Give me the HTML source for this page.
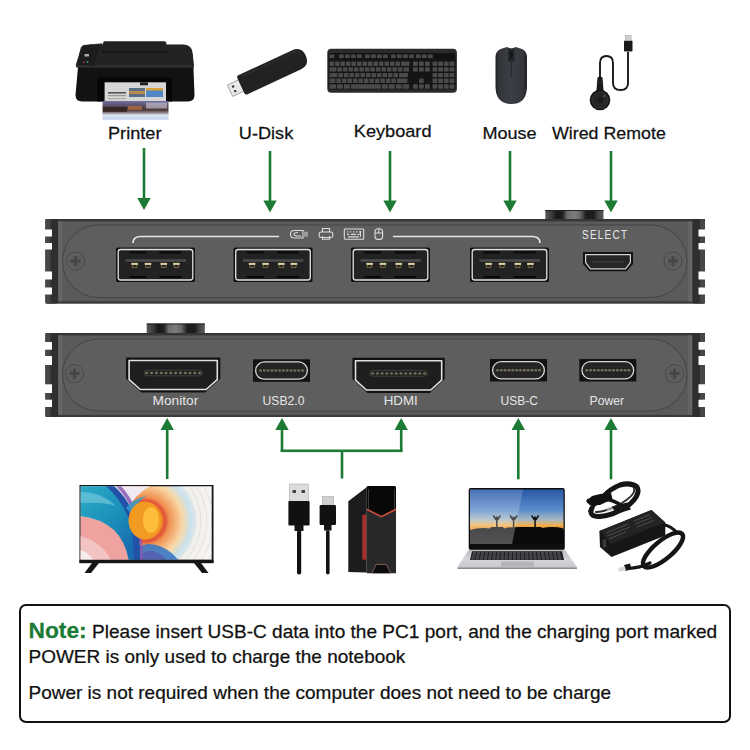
<!DOCTYPE html>
<html><head><meta charset="utf-8">
<style>
html,body{margin:0;padding:0;background:#fff;}
body{width:750px;height:750px;position:relative;overflow:hidden;font-family:"Liberation Sans",sans-serif;}
svg{position:absolute;left:0;top:0;}
.lbl{position:absolute;font-size:17px;color:#111;white-space:nowrap;line-height:1;transform-origin:0 0;}
.plbl{position:absolute;font-size:13px;color:#e8e8e8;white-space:nowrap;line-height:1;transform-origin:0 0;}
.note{position:absolute;left:18.5px;top:604px;width:708.5px;height:115px;border:2px solid #111;border-radius:7px;}
.nt{position:absolute;left:29px;font-size:18px;color:#111;white-space:nowrap;line-height:1;transform-origin:0 0;}
</style></head><body>
<svg width="750" height="750" viewBox="0 0 750 750">
<defs><linearGradient id="knobg" x1="0" x2="1" y1="0" y2="0"><stop offset="0" stop-color="#5a5a5a"/><stop offset="0.1" stop-color="#3e3e3e"/><stop offset="0.2" stop-color="#161616"/><stop offset="0.3" stop-color="#222"/><stop offset="0.38" stop-color="#6e6e6e"/><stop offset="0.5" stop-color="#7c7c7c"/><stop offset="0.6" stop-color="#666"/><stop offset="0.7" stop-color="#1e1e1e"/><stop offset="0.82" stop-color="#1a1a1a"/><stop offset="0.92" stop-color="#4a4a4a"/><stop offset="1" stop-color="#575757"/></linearGradient></defs>
<rect x="142.7" y="148" width="2.6" height="52" fill="#1d7a34"/>
<path d="M137.3 198 L150.7 198 L144 210 Z" fill="#1d7a34"/>
<rect x="268.7" y="151" width="2.6" height="51.5" fill="#1d7a34"/>
<path d="M263.3 200.5 L276.7 200.5 L270 212.5 Z" fill="#1d7a34"/>
<rect x="388.7" y="151" width="2.6" height="51.5" fill="#1d7a34"/>
<path d="M383.3 200.5 L396.7 200.5 L390 212.5 Z" fill="#1d7a34"/>
<rect x="508.7" y="151" width="2.6" height="51.5" fill="#1d7a34"/>
<path d="M503.3 200.5 L516.7 200.5 L510 212.5 Z" fill="#1d7a34"/>
<rect x="609.7" y="151" width="2.6" height="51.5" fill="#1d7a34"/>
<path d="M604.3 200.5 L617.7 200.5 L611 212.5 Z" fill="#1d7a34"/>
<rect x="545.3" y="210" width="58.200000000000045" height="10" fill="url(#knobg)"/><rect x="545.3" y="210" width="58.200000000000045" height="1" fill="#222"/>
<rect x="45.5" y="219" width="659.5" height="84.5" rx="2" fill="#5a5a5a"/>
<rect x="45.5" y="219" width="659.5" height="2.4" fill="#363636"/>
<rect x="45.5" y="301.3" width="659.5" height="2.2" fill="#3a3a3a"/>
<rect x="45.5" y="219" width="12.8" height="84.5" rx="2" fill="#2f2f2f"/>
<rect x="45.5" y="219" width="5" height="84.5" rx="2" fill="#474747"/>
<rect x="692.2" y="219" width="12.8" height="84.5" rx="2" fill="#2f2f2f"/>
<rect x="700" y="219" width="5" height="84.5" rx="2" fill="#474747"/>
<rect x="58.3" y="221.4" width="4" height="79.9" fill="#666"/>
<rect x="688.2" y="221.4" width="4" height="79.9" fill="#666"/>
<rect x="62.5" y="225" width="624.5" height="72.5" rx="36.25" ry="36.25" fill="#5e5e5e" stroke="#444" stroke-width="1"/>
<rect x="44.5" y="229.5" width="7.5" height="7.0" fill="#ffffff"/>
<rect x="698.5" y="229.5" width="7.5" height="7.0" fill="#ffffff"/>
<rect x="44.5" y="243" width="7.5" height="6.5" fill="#ffffff"/>
<rect x="698.5" y="243" width="7.5" height="6.5" fill="#ffffff"/>
<rect x="44.5" y="271.5" width="7.5" height="8.0" fill="#ffffff"/>
<rect x="698.5" y="271.5" width="7.5" height="8.0" fill="#ffffff"/>
<rect x="44.5" y="287.5" width="7.5" height="7.0" fill="#ffffff"/>
<rect x="698.5" y="287.5" width="7.5" height="7.0" fill="#ffffff"/>
<circle cx="75.5" cy="261" r="9" fill="#5c5c5c" stroke="#474747" stroke-width="1"/><circle cx="75.5" cy="261" r="7.5" fill="none" stroke="#6a6a6a" stroke-width="0.6"/><path d="M70.5 259.6 h3.6 v-3.6 h2.8 v3.6 h3.6 v2.8 h-3.6 v3.6 h-2.8 v-3.6 h-3.6 Z" fill="#454545"/>
<circle cx="673" cy="261" r="9" fill="#5c5c5c" stroke="#474747" stroke-width="1"/><circle cx="673" cy="261" r="7.5" fill="none" stroke="#6a6a6a" stroke-width="0.6"/><path d="M668 259.6 h3.6 v-3.6 h2.8 v3.6 h3.6 v2.8 h-3.6 v3.6 h-2.8 v-3.6 h-3.6 Z" fill="#454545"/>
<rect x="116" y="247.5" width="79" height="34.5" rx="1.5" fill="#121212"/>
<rect x="118.2" y="249.5" width="74.6" height="30.5" rx="2.5" fill="#222" stroke="#e2e2e2" stroke-width="1.3"/>
<rect x="129.4" y="251.5" width="16.6" height="2" fill="#080808"/>
<rect x="129.4" y="276.0" width="16.6" height="2" fill="#080808"/>
<rect x="159.4" y="251.5" width="22.1" height="2" fill="#080808"/>
<rect x="159.4" y="276.0" width="22.1" height="2" fill="#080808"/>
<rect x="125.5" y="259.2" width="60.4" height="2.6" fill="#4a4a4a"/>
<rect x="131.3" y="262.9" width="6.6" height="2" fill="#e2d4a2"/>
<path d="M132.4 264.9 v2.6 h4.4 v-2.6" fill="none" stroke="#8a7a50" stroke-width="0.8"/>
<rect x="144.7" y="262.9" width="6.6" height="2" fill="#e2d4a2"/>
<path d="M145.8 264.9 v2.6 h4.4 v-2.6" fill="none" stroke="#8a7a50" stroke-width="0.8"/>
<rect x="160.5" y="262.9" width="6.6" height="2" fill="#e2d4a2"/>
<path d="M161.6 264.9 v2.6 h4.4 v-2.6" fill="none" stroke="#8a7a50" stroke-width="0.8"/>
<rect x="173.1" y="262.9" width="6.6" height="2" fill="#e2d4a2"/>
<path d="M174.2 264.9 v2.6 h4.4 v-2.6" fill="none" stroke="#8a7a50" stroke-width="0.8"/>
<rect x="233.5" y="247.5" width="79" height="34.5" rx="1.5" fill="#121212"/>
<rect x="235.7" y="249.5" width="74.6" height="30.5" rx="2.5" fill="#222" stroke="#e2e2e2" stroke-width="1.3"/>
<rect x="246.9" y="251.5" width="16.6" height="2" fill="#080808"/>
<rect x="246.9" y="276.0" width="16.6" height="2" fill="#080808"/>
<rect x="276.9" y="251.5" width="22.1" height="2" fill="#080808"/>
<rect x="276.9" y="276.0" width="22.1" height="2" fill="#080808"/>
<rect x="243.0" y="259.2" width="60.4" height="2.6" fill="#4a4a4a"/>
<rect x="248.8" y="262.9" width="6.6" height="2" fill="#e2d4a2"/>
<path d="M249.9 264.9 v2.6 h4.4 v-2.6" fill="none" stroke="#8a7a50" stroke-width="0.8"/>
<rect x="262.2" y="262.9" width="6.6" height="2" fill="#e2d4a2"/>
<path d="M263.3 264.9 v2.6 h4.4 v-2.6" fill="none" stroke="#8a7a50" stroke-width="0.8"/>
<rect x="278.0" y="262.9" width="6.6" height="2" fill="#e2d4a2"/>
<path d="M279.1 264.9 v2.6 h4.4 v-2.6" fill="none" stroke="#8a7a50" stroke-width="0.8"/>
<rect x="290.6" y="262.9" width="6.6" height="2" fill="#e2d4a2"/>
<path d="M291.7 264.9 v2.6 h4.4 v-2.6" fill="none" stroke="#8a7a50" stroke-width="0.8"/>
<rect x="351" y="247.5" width="79" height="34.5" rx="1.5" fill="#121212"/>
<rect x="353.2" y="249.5" width="74.6" height="30.5" rx="2.5" fill="#222" stroke="#e2e2e2" stroke-width="1.3"/>
<rect x="364.4" y="251.5" width="16.6" height="2" fill="#080808"/>
<rect x="364.4" y="276.0" width="16.6" height="2" fill="#080808"/>
<rect x="394.4" y="251.5" width="22.1" height="2" fill="#080808"/>
<rect x="394.4" y="276.0" width="22.1" height="2" fill="#080808"/>
<rect x="360.5" y="259.2" width="60.4" height="2.6" fill="#4a4a4a"/>
<rect x="366.3" y="262.9" width="6.6" height="2" fill="#e2d4a2"/>
<path d="M367.4 264.9 v2.6 h4.4 v-2.6" fill="none" stroke="#8a7a50" stroke-width="0.8"/>
<rect x="379.7" y="262.9" width="6.6" height="2" fill="#e2d4a2"/>
<path d="M380.8 264.9 v2.6 h4.4 v-2.6" fill="none" stroke="#8a7a50" stroke-width="0.8"/>
<rect x="395.5" y="262.9" width="6.6" height="2" fill="#e2d4a2"/>
<path d="M396.6 264.9 v2.6 h4.4 v-2.6" fill="none" stroke="#8a7a50" stroke-width="0.8"/>
<rect x="408.1" y="262.9" width="6.6" height="2" fill="#e2d4a2"/>
<path d="M409.2 264.9 v2.6 h4.4 v-2.6" fill="none" stroke="#8a7a50" stroke-width="0.8"/>
<rect x="470" y="247.5" width="79" height="34.5" rx="1.5" fill="#121212"/>
<rect x="472.2" y="249.5" width="74.6" height="30.5" rx="2.5" fill="#222" stroke="#e2e2e2" stroke-width="1.3"/>
<rect x="483.4" y="251.5" width="16.6" height="2" fill="#080808"/>
<rect x="483.4" y="276.0" width="16.6" height="2" fill="#080808"/>
<rect x="513.5" y="251.5" width="22.1" height="2" fill="#080808"/>
<rect x="513.5" y="276.0" width="22.1" height="2" fill="#080808"/>
<rect x="479.5" y="259.2" width="60.4" height="2.6" fill="#4a4a4a"/>
<rect x="485.3" y="262.9" width="6.6" height="2" fill="#e2d4a2"/>
<path d="M486.4 264.9 v2.6 h4.4 v-2.6" fill="none" stroke="#8a7a50" stroke-width="0.8"/>
<rect x="498.7" y="262.9" width="6.6" height="2" fill="#e2d4a2"/>
<path d="M499.8 264.9 v2.6 h4.4 v-2.6" fill="none" stroke="#8a7a50" stroke-width="0.8"/>
<rect x="514.5" y="262.9" width="6.6" height="2" fill="#e2d4a2"/>
<path d="M515.6 264.9 v2.6 h4.4 v-2.6" fill="none" stroke="#8a7a50" stroke-width="0.8"/>
<rect x="527.1" y="262.9" width="6.6" height="2" fill="#e2d4a2"/>
<path d="M528.2 264.9 v2.6 h4.4 v-2.6" fill="none" stroke="#8a7a50" stroke-width="0.8"/>
<path d="M133 243 Q133 236.5 141 236.5 L279 236.5 M393 236.5 L532 236.5 Q540 236.5 540 243" fill="none" stroke="#e8e8e8" stroke-width="1.6"/>
<g fill="none" stroke="#dcdcdc" stroke-width="1.1"><path d="M303 230.5 H294 Q290.5 230.5 290.5 234.2 Q290.5 238 294 238 H303 Z"/><path d="M298 232.5 Q294 232.5 294 234.2 Q294 236 298 236 H301"/><rect x="303" y="231.8" width="5" height="5" fill="#9a9a9a" stroke="none"/><path d="M322.5 232 V228.5 H329.5 V232"/><rect x="319.2" y="232" width="13.6" height="5.5" rx="1.8"/><path d="M322.5 236 V239.3 H329.5 V236"/><rect x="344.3" y="229" width="19.4" height="10.2" rx="0.8"/><path d="M347 231.8h1.2M350 231.8h1.2M353 231.8h1.2M356 231.8h1.2M359 231.8h1.2M347 234.3h2.2M351 234.3h5M357.5 234.3h2.2M348 236.8h11" stroke-width="1.2"/><path d="M360.5 231 V236.8" stroke-width="1"/><rect x="375" y="228.8" width="7.6" height="10.6" rx="3"/><path d="M375 233 H382.6 M378.8 228.8 V233"/></g>
<text transform="translate(582 239.2) scale(0.78 1)" font-family="Liberation Sans" font-size="12.8" fill="#e6e6e6" letter-spacing="1.6">SELECT</text>
<path d="M583 252 H633 V264 L626.5 271.3 H589.5 L583 264 Z" fill="#121212"/>
<path d="M585.6 254.6 H630.4 V262.6 L625.5 268.8 H590.5 L585.6 262.6 Z" fill="#262626" stroke="#d4d4d4" stroke-width="1.2" stroke-linejoin="round"/>
<rect x="592" y="261" width="32" height="1.6" fill="#3a3a3a"/>
<rect x="146.7" y="323.5" width="58.10000000000002" height="10.5" fill="url(#knobg)"/><rect x="146.7" y="323.5" width="58.10000000000002" height="1" fill="#222"/>
<rect x="45.5" y="333" width="659.5" height="84" rx="2" fill="#5a5a5a"/>
<rect x="45.5" y="333" width="659.5" height="2.4" fill="#363636"/>
<rect x="45.5" y="414.8" width="659.5" height="2.2" fill="#3a3a3a"/>
<rect x="45.5" y="333" width="12.8" height="84" rx="2" fill="#2f2f2f"/>
<rect x="45.5" y="333" width="5" height="84" rx="2" fill="#474747"/>
<rect x="692.2" y="333" width="12.8" height="84" rx="2" fill="#2f2f2f"/>
<rect x="700" y="333" width="5" height="84" rx="2" fill="#474747"/>
<rect x="58.3" y="335.4" width="4" height="79.4" fill="#666"/>
<rect x="688.2" y="335.4" width="4" height="79.4" fill="#666"/>
<rect x="62.5" y="339" width="624.5" height="72" rx="36.0" ry="36.0" fill="#5e5e5e" stroke="#444" stroke-width="1"/>
<rect x="44.5" y="342" width="7.5" height="7.699999999999989" fill="#ffffff"/>
<rect x="698.5" y="342" width="7.5" height="7.699999999999989" fill="#ffffff"/>
<rect x="44.5" y="356" width="7.5" height="9" fill="#ffffff"/>
<rect x="698.5" y="356" width="7.5" height="9" fill="#ffffff"/>
<rect x="44.5" y="384.3" width="7.5" height="8.699999999999989" fill="#ffffff"/>
<rect x="698.5" y="384.3" width="7.5" height="8.699999999999989" fill="#ffffff"/>
<rect x="44.5" y="399.7" width="7.5" height="7.300000000000011" fill="#ffffff"/>
<rect x="698.5" y="399.7" width="7.5" height="7.300000000000011" fill="#ffffff"/>
<circle cx="74.5" cy="373.7" r="9" fill="#5c5c5c" stroke="#474747" stroke-width="1"/><circle cx="74.5" cy="373.7" r="7.5" fill="none" stroke="#6a6a6a" stroke-width="0.6"/><path d="M69.5 372.3 h3.6 v-3.6 h2.8 v3.6 h3.6 v2.8 h-3.6 v3.6 h-2.8 v-3.6 h-3.6 Z" fill="#454545"/>
<circle cx="674.5" cy="373.7" r="9" fill="#5c5c5c" stroke="#474747" stroke-width="1"/><circle cx="674.5" cy="373.7" r="7.5" fill="none" stroke="#6a6a6a" stroke-width="0.6"/><path d="M669.5 372.3 h3.6 v-3.6 h2.8 v3.6 h3.6 v2.8 h-3.6 v3.6 h-2.8 v-3.6 h-3.6 Z" fill="#454545"/>
<path d="M126.8 358.2 L219.6 358.2 L219.6 378.4 L204.8 391.8 L141.6 391.8 L126.8 378.4 Z" fill="#121212" stroke="#121212" stroke-width="1.5" stroke-linejoin="round"/>
<path d="M129.1 360.5 L217.3 360.5 L217.3 379.7 L206.1 389.5 L140.3 389.5 L129.1 379.7 Z" fill="#1e1e1e" stroke="#e2e0dc" stroke-width="1.6" stroke-linejoin="round"/>
<rect x="144.0" y="370.2" width="58.5" height="5.6" rx="2.8" fill="none" stroke="#4a4a44" stroke-width="0.8"/>
<ellipse cx="146.8" cy="373.0" rx="1.6" ry="1.2" fill="#767058"/>
<ellipse cx="151.6" cy="373.0" rx="1.6" ry="1.2" fill="#767058"/>
<ellipse cx="156.4" cy="373.0" rx="1.6" ry="1.2" fill="#767058"/>
<ellipse cx="161.2" cy="373.0" rx="1.6" ry="1.2" fill="#767058"/>
<ellipse cx="166.0" cy="373.0" rx="1.6" ry="1.2" fill="#767058"/>
<ellipse cx="170.8" cy="373.0" rx="1.6" ry="1.2" fill="#767058"/>
<ellipse cx="175.6" cy="373.0" rx="1.6" ry="1.2" fill="#767058"/>
<ellipse cx="180.4" cy="373.0" rx="1.6" ry="1.2" fill="#767058"/>
<ellipse cx="185.2" cy="373.0" rx="1.6" ry="1.2" fill="#767058"/>
<ellipse cx="190.0" cy="373.0" rx="1.6" ry="1.2" fill="#767058"/>
<ellipse cx="194.8" cy="373.0" rx="1.6" ry="1.2" fill="#767058"/>
<ellipse cx="199.6" cy="373.0" rx="1.6" ry="1.2" fill="#767058"/>
<rect x="253" y="359.3" width="57" height="22.5" fill="#121212"/>
<rect x="255.6" y="361.90000000000003" width="51.8" height="17.3" rx="8.65" fill="#242424" stroke="#d8d8d8" stroke-width="1.3"/>
<ellipse cx="260.5" cy="370.6" rx="1.5" ry="1.25" fill="#767058"/>
<ellipse cx="264.3" cy="370.6" rx="1.5" ry="1.25" fill="#767058"/>
<ellipse cx="268.1" cy="370.6" rx="1.5" ry="1.25" fill="#767058"/>
<ellipse cx="272.0" cy="370.6" rx="1.5" ry="1.25" fill="#767058"/>
<ellipse cx="275.8" cy="370.6" rx="1.5" ry="1.25" fill="#767058"/>
<ellipse cx="279.6" cy="370.6" rx="1.5" ry="1.25" fill="#767058"/>
<ellipse cx="283.4" cy="370.6" rx="1.5" ry="1.25" fill="#767058"/>
<ellipse cx="287.2" cy="370.6" rx="1.5" ry="1.25" fill="#767058"/>
<ellipse cx="291.0" cy="370.6" rx="1.5" ry="1.25" fill="#767058"/>
<ellipse cx="294.9" cy="370.6" rx="1.5" ry="1.25" fill="#767058"/>
<ellipse cx="298.7" cy="370.6" rx="1.5" ry="1.25" fill="#767058"/>
<ellipse cx="302.5" cy="370.6" rx="1.5" ry="1.25" fill="#767058"/>
<path d="M353.2 358.5 L444.0 358.5 L444.0 378.8 L429.5 392.3 L367.7 392.3 L353.2 378.8 Z" fill="#121212" stroke="#121212" stroke-width="1.5" stroke-linejoin="round"/>
<path d="M355.5 360.8 L441.7 360.8 L441.7 380.1 L430.8 390.0 L366.4 390.0 L355.5 380.1 Z" fill="#1e1e1e" stroke="#e2e0dc" stroke-width="1.6" stroke-linejoin="round"/>
<rect x="370.0" y="370.6" width="57.2" height="5.6" rx="2.8" fill="none" stroke="#4a4a44" stroke-width="0.8"/>
<ellipse cx="372.7" cy="373.4" rx="1.6" ry="1.2" fill="#767058"/>
<ellipse cx="377.4" cy="373.4" rx="1.6" ry="1.2" fill="#767058"/>
<ellipse cx="382.1" cy="373.4" rx="1.6" ry="1.2" fill="#767058"/>
<ellipse cx="386.8" cy="373.4" rx="1.6" ry="1.2" fill="#767058"/>
<ellipse cx="391.5" cy="373.4" rx="1.6" ry="1.2" fill="#767058"/>
<ellipse cx="396.2" cy="373.4" rx="1.6" ry="1.2" fill="#767058"/>
<ellipse cx="401.0" cy="373.4" rx="1.6" ry="1.2" fill="#767058"/>
<ellipse cx="405.7" cy="373.4" rx="1.6" ry="1.2" fill="#767058"/>
<ellipse cx="410.4" cy="373.4" rx="1.6" ry="1.2" fill="#767058"/>
<ellipse cx="415.1" cy="373.4" rx="1.6" ry="1.2" fill="#767058"/>
<ellipse cx="419.8" cy="373.4" rx="1.6" ry="1.2" fill="#767058"/>
<ellipse cx="424.5" cy="373.4" rx="1.6" ry="1.2" fill="#767058"/>
<rect x="490" y="359" width="57" height="22.5" fill="#121212"/>
<rect x="492.6" y="361.6" width="51.8" height="17.3" rx="8.65" fill="#242424" stroke="#d8d8d8" stroke-width="1.3"/>
<ellipse cx="497.5" cy="370.2" rx="1.5" ry="1.25" fill="#767058"/>
<ellipse cx="501.3" cy="370.2" rx="1.5" ry="1.25" fill="#767058"/>
<ellipse cx="505.1" cy="370.2" rx="1.5" ry="1.25" fill="#767058"/>
<ellipse cx="509.0" cy="370.2" rx="1.5" ry="1.25" fill="#767058"/>
<ellipse cx="512.8" cy="370.2" rx="1.5" ry="1.25" fill="#767058"/>
<ellipse cx="516.6" cy="370.2" rx="1.5" ry="1.25" fill="#767058"/>
<ellipse cx="520.4" cy="370.2" rx="1.5" ry="1.25" fill="#767058"/>
<ellipse cx="524.2" cy="370.2" rx="1.5" ry="1.25" fill="#767058"/>
<ellipse cx="528.0" cy="370.2" rx="1.5" ry="1.25" fill="#767058"/>
<ellipse cx="531.9" cy="370.2" rx="1.5" ry="1.25" fill="#767058"/>
<ellipse cx="535.7" cy="370.2" rx="1.5" ry="1.25" fill="#767058"/>
<ellipse cx="539.5" cy="370.2" rx="1.5" ry="1.25" fill="#767058"/>
<rect x="579.3" y="359" width="57" height="22.5" fill="#121212"/>
<rect x="581.9" y="361.6" width="51.8" height="17.3" rx="8.65" fill="#242424" stroke="#d8d8d8" stroke-width="1.3"/>
<ellipse cx="586.8" cy="370.2" rx="1.5" ry="1.25" fill="#767058"/>
<ellipse cx="590.6" cy="370.2" rx="1.5" ry="1.25" fill="#767058"/>
<ellipse cx="594.4" cy="370.2" rx="1.5" ry="1.25" fill="#767058"/>
<ellipse cx="598.3" cy="370.2" rx="1.5" ry="1.25" fill="#767058"/>
<ellipse cx="602.1" cy="370.2" rx="1.5" ry="1.25" fill="#767058"/>
<ellipse cx="605.9" cy="370.2" rx="1.5" ry="1.25" fill="#767058"/>
<ellipse cx="609.7" cy="370.2" rx="1.5" ry="1.25" fill="#767058"/>
<ellipse cx="613.5" cy="370.2" rx="1.5" ry="1.25" fill="#767058"/>
<ellipse cx="617.3" cy="370.2" rx="1.5" ry="1.25" fill="#767058"/>
<ellipse cx="621.2" cy="370.2" rx="1.5" ry="1.25" fill="#767058"/>
<ellipse cx="625.0" cy="370.2" rx="1.5" ry="1.25" fill="#767058"/>
<ellipse cx="628.8" cy="370.2" rx="1.5" ry="1.25" fill="#767058"/>
<rect x="165.89999999999998" y="428" width="2.6" height="51" fill="#1d7a34"/><path d="M160.5 430 L173.89999999999998 430 L167.2 418 Z" fill="#1d7a34"/>
<rect x="280.7" y="428" width="2.6" height="24" fill="#1d7a34"/><path d="M275.3 430 L288.7 430 L282 418 Z" fill="#1d7a34"/>
<rect x="399.9" y="428" width="2.6" height="24" fill="#1d7a34"/><path d="M394.5 430 L407.9 430 L401.2 418 Z" fill="#1d7a34"/>
<rect x="280.7" y="449.5" width="121.8" height="2.6" fill="#1d7a34"/>
<rect x="340.7" y="450" width="2.6" height="28.5" fill="#1d7a34"/>
<rect x="517.0" y="428" width="2.6" height="51.30000000000001" fill="#1d7a34"/><path d="M511.59999999999997 430 L525.0 430 L518.3 418 Z" fill="#1d7a34"/>
<rect x="609.7" y="428" width="2.6" height="51.30000000000001" fill="#1d7a34"/><path d="M604.3 430 L617.7 430 L611 418 Z" fill="#1d7a34"/>
<text class="t" transform="translate(108.0 139.2) scale(1.05 1)" font-family="Liberation Sans" font-size="17.3" font-weight="normal" fill="#111" stroke="#111" stroke-width="0.25" >Printer</text>
<text class="t" transform="translate(238.8 139.2) scale(1.05 1)" font-family="Liberation Sans" font-size="17.3" font-weight="normal" fill="#111" stroke="#111" stroke-width="0.25" >U-Disk</text>
<text class="t" transform="translate(353.8 137.2) scale(1.05 1)" font-family="Liberation Sans" font-size="17.3" font-weight="normal" fill="#111" stroke="#111" stroke-width="0.25" >Keyboard</text>
<text class="t" transform="translate(482.4 139.0) scale(1.045 1)" font-family="Liberation Sans" font-size="17.3" font-weight="normal" fill="#111" stroke="#111" stroke-width="0.25" >Mouse</text>
<text class="t" transform="translate(552.0 139.0) scale(1.03 1)" font-family="Liberation Sans" font-size="17.3" font-weight="normal" fill="#111" stroke="#111" stroke-width="0.25" >Wired Remote</text>
<text class="t" transform="translate(152.6 405) scale(1.07 1)" font-family="Liberation Sans" font-size="12.8" font-weight="normal" fill="#e6e6e6" stroke="#e6e6e6" stroke-width="0" >Monitor</text>
<text class="t" transform="translate(262.6 405) scale(0.95 1)" font-family="Liberation Sans" font-size="12.8" font-weight="normal" fill="#e6e6e6" stroke="#e6e6e6" stroke-width="0" >USB2.0</text>
<text class="t" transform="translate(383.7 405) scale(1.04 1)" font-family="Liberation Sans" font-size="12.8" font-weight="normal" fill="#e6e6e6" stroke="#e6e6e6" stroke-width="0" >HDMI</text>
<text class="t" transform="translate(500.6 405) scale(0.94 1)" font-family="Liberation Sans" font-size="12.8" font-weight="normal" fill="#e6e6e6" stroke="#e6e6e6" stroke-width="0" >USB-C</text>
<text class="t" transform="translate(589.6 405) scale(0.95 1)" font-family="Liberation Sans" font-size="12.8" font-weight="normal" fill="#e6e6e6" stroke="#e6e6e6" stroke-width="0" >Power</text>
<text class="t" transform="translate(28.5 638.4) scale(1.06 1)" font-family="Liberation Sans" font-size="18" font-weight="normal" fill="#111" stroke="#111" stroke-width="0.25" ><tspan font-weight="bold" font-size="21.5" fill="#1b7a33" stroke="#1b7a33">Note:</tspan> Please insert USB-C data into the PC1 port, and the charging port marked</text>
<text class="t" transform="translate(28.5 662.9) scale(1.055 1)" font-family="Liberation Sans" font-size="18" font-weight="normal" fill="#111" stroke="#111" stroke-width="0.25" >POWER is only used to charge the notebook</text>
<text class="t" transform="translate(28.5 699.3) scale(1.055 1)" font-family="Liberation Sans" font-size="18" font-weight="normal" fill="#111" stroke="#111" stroke-width="0.25" >Power is not required when the computer does not need to be charge</text>
<g id="printer">
<path d="M79 56 Q80 45.5 90 44.5 L184 44.5 Q192 45.5 193 56 L194.5 95 Q194.5 101.5 188 101.5 L82 101.5 Q75.5 101.5 75.5 95 Z" fill="#121212"/>
<path d="M81 47 Q83 45 90 45 L184 45 Q190 45 192 50 L194 66 L76 66 Z" fill="#232323"/>
<rect x="76" y="65.5" width="118" height="2" fill="#333"/>
<path d="M104.7 41.3 L164.5 41.3 Q166 41.3 166.3 43 L167.5 52.5 L101.5 52.5 L103 43 Q103.3 41.3 104.7 41.3 Z" fill="#222"/>
<rect x="102" y="51.5" width="65" height="1.2" fill="#0e0e0e"/>
<path d="M83 45.4 L102 43.7 L94.3 66.2 L76 65 Z" fill="#1c1c1c" stroke="#2e2e2e" stroke-width="0.6"/>
<rect x="84.5" y="54" width="4.5" height="2.5" fill="#aaa"/>
<circle cx="84" cy="62" r="0.9" fill="#a33"/><circle cx="87.5" cy="62" r="0.9" fill="#2a7"/>
<path d="M97 101.5 L97 80 Q97 77.5 100 77.5 L169 77.5 Q172 77.5 172 80 L172 101.5 Z" fill="#060606"/>
<rect x="104.6" y="82.3" width="61.4" height="19" fill="#d6d6d6"/>
<rect x="108" y="92" width="18" height="1.6" fill="#555"/><rect x="108" y="95" width="18" height="1.2" fill="#999"/><rect x="108" y="98" width="18" height="1.2" fill="#aaa"/>
<rect x="129" y="88" width="16" height="9" fill="#5a6e86"/><rect x="129" y="91" width="16" height="3" fill="#b98a4a"/>
<rect x="146" y="88" width="17" height="9" fill="#4f86c4"/><rect x="146" y="88" width="17" height="2.5" fill="#d9a23a"/>
<rect x="140" y="82.3" width="8" height="3" fill="#222"/>
<defs><linearGradient id="phg" x1="0" x2="0" y1="0" y2="1"><stop offset="0" stop-color="#7070a0"/><stop offset="0.28" stop-color="#5a4a60"/><stop offset="0.48" stop-color="#4a3636"/><stop offset="0.62" stop-color="#8a7a84"/><stop offset="0.76" stop-color="#dde6f4"/><stop offset="1" stop-color="#bccfec"/></linearGradient></defs>
<rect x="102.5" y="101" width="66" height="18.6" fill="url(#phg)"/>
<rect x="103" y="107" width="24" height="5" fill="#2a1c1a" opacity="0.7"/><rect x="128" y="106" width="14" height="4" fill="#c87a3a" opacity="0.6"/>
<rect x="146" y="102.5" width="21" height="6" fill="#d8d8e0" opacity="0.55"/>
</g>
<g transform="translate(273.5 70.5) rotate(-25)"><rect x="-48" y="-6.3" width="15" height="12.6" fill="#e8e8e8" stroke="#9a9a9a" stroke-width="0.8"/><rect x="-44.5" y="-3.6" width="2.2" height="2.2" fill="#333"/><rect x="-44.5" y="1.4" width="2.2" height="2.2" fill="#333"/><path d="M-34 -10.5 L25 -10.5 Q35.5 -10.5 35.5 0 Q35.5 10.5 25 10.5 L-34 10.5 Q-36 10.5 -36 8 L-36 -8 Q-36 -10.5 -34 -10.5 Z" fill="#222"/><path d="M-30 -8 L24 -8 Q32 -8 32 0" fill="none" stroke="#333" stroke-width="1"/></g>
<g id="kbd">
<rect x="327.3" y="48.7" width="129.6" height="44" rx="4" fill="#2a2a2a"/>
<rect x="328.5" y="53" width="127" height="36.5" rx="2" fill="#151515"/>
<rect x="329.5" y="54.5" width="4.8" height="3.6" rx="0.6" fill="#4a4a4a"/>
<rect x="339" y="54.5" width="4.8" height="3.6" rx="0.6" fill="#4a4a4a"/>
<rect x="345" y="54.5" width="4.8" height="3.6" rx="0.6" fill="#4a4a4a"/>
<rect x="351" y="54.5" width="4.8" height="3.6" rx="0.6" fill="#4a4a4a"/>
<rect x="357" y="54.5" width="4.8" height="3.6" rx="0.6" fill="#4a4a4a"/>
<rect x="365" y="54.5" width="4.8" height="3.6" rx="0.6" fill="#4a4a4a"/>
<rect x="371" y="54.5" width="4.8" height="3.6" rx="0.6" fill="#4a4a4a"/>
<rect x="377" y="54.5" width="4.8" height="3.6" rx="0.6" fill="#4a4a4a"/>
<rect x="383" y="54.5" width="4.8" height="3.6" rx="0.6" fill="#4a4a4a"/>
<rect x="391" y="54.5" width="4.8" height="3.6" rx="0.6" fill="#4a4a4a"/>
<rect x="397" y="54.5" width="4.8" height="3.6" rx="0.6" fill="#4a4a4a"/>
<rect x="403" y="54.5" width="4.8" height="3.6" rx="0.6" fill="#4a4a4a"/>
<rect x="409" y="54.5" width="4.8" height="3.6" rx="0.6" fill="#4a4a4a"/>
<rect x="416" y="54.5" width="4.8" height="3.6" rx="0.6" fill="#4a4a4a"/>
<rect x="422" y="54.5" width="4.8" height="3.6" rx="0.6" fill="#4a4a4a"/>
<rect x="428" y="54.5" width="4.8" height="3.6" rx="0.6" fill="#4a4a4a"/>
<rect x="436" y="54.5" width="17" height="3.6" fill="#111"/>
<rect x="329.5" y="61.5" width="4.55" height="4.4" rx="0.6" fill="#4a4a4a"/>
<rect x="335.0" y="61.5" width="4.55" height="4.4" rx="0.6" fill="#4a4a4a"/>
<rect x="340.5" y="61.5" width="4.55" height="4.4" rx="0.6" fill="#4a4a4a"/>
<rect x="346.0" y="61.5" width="4.55" height="4.4" rx="0.6" fill="#4a4a4a"/>
<rect x="351.5" y="61.5" width="4.55" height="4.4" rx="0.6" fill="#4a4a4a"/>
<rect x="357.0" y="61.5" width="4.55" height="4.4" rx="0.6" fill="#4a4a4a"/>
<rect x="362.5" y="61.5" width="4.55" height="4.4" rx="0.6" fill="#4a4a4a"/>
<rect x="368.0" y="61.5" width="4.55" height="4.4" rx="0.6" fill="#4a4a4a"/>
<rect x="373.5" y="61.5" width="4.55" height="4.4" rx="0.6" fill="#4a4a4a"/>
<rect x="379.0" y="61.5" width="4.55" height="4.4" rx="0.6" fill="#4a4a4a"/>
<rect x="384.5" y="61.5" width="4.55" height="4.4" rx="0.6" fill="#4a4a4a"/>
<rect x="390.0" y="61.5" width="4.55" height="4.4" rx="0.6" fill="#4a4a4a"/>
<rect x="395.5" y="61.5" width="4.55" height="4.4" rx="0.6" fill="#4a4a4a"/>
<rect x="401.0" y="61.5" width="8.5" height="4.4" rx="0.6" fill="#4a4a4a"/>
<rect x="329.5" y="67.2" width="7" height="4.4" rx="0.6" fill="#4a4a4a"/>
<rect x="337.4" y="67.2" width="4.55" height="4.4" rx="0.6" fill="#4a4a4a"/>
<rect x="342.9" y="67.2" width="4.55" height="4.4" rx="0.6" fill="#4a4a4a"/>
<rect x="348.4" y="67.2" width="4.55" height="4.4" rx="0.6" fill="#4a4a4a"/>
<rect x="353.9" y="67.2" width="4.55" height="4.4" rx="0.6" fill="#4a4a4a"/>
<rect x="359.4" y="67.2" width="4.55" height="4.4" rx="0.6" fill="#4a4a4a"/>
<rect x="364.9" y="67.2" width="4.55" height="4.4" rx="0.6" fill="#4a4a4a"/>
<rect x="370.4" y="67.2" width="4.55" height="4.4" rx="0.6" fill="#4a4a4a"/>
<rect x="375.9" y="67.2" width="4.55" height="4.4" rx="0.6" fill="#4a4a4a"/>
<rect x="381.4" y="67.2" width="4.55" height="4.4" rx="0.6" fill="#4a4a4a"/>
<rect x="386.9" y="67.2" width="4.55" height="4.4" rx="0.6" fill="#4a4a4a"/>
<rect x="392.4" y="67.2" width="4.55" height="4.4" rx="0.6" fill="#4a4a4a"/>
<rect x="397.9" y="67.2" width="4.55" height="4.4" rx="0.6" fill="#4a4a4a"/>
<rect x="403.4" y="67.2" width="5.5" height="4.4" rx="0.6" fill="#4a4a4a"/>
<rect x="329.5" y="72.9" width="8" height="4.4" rx="0.6" fill="#4a4a4a"/>
<rect x="338.4" y="72.9" width="4.55" height="4.4" rx="0.6" fill="#4a4a4a"/>
<rect x="343.9" y="72.9" width="4.55" height="4.4" rx="0.6" fill="#4a4a4a"/>
<rect x="349.4" y="72.9" width="4.55" height="4.4" rx="0.6" fill="#4a4a4a"/>
<rect x="354.9" y="72.9" width="4.55" height="4.4" rx="0.6" fill="#4a4a4a"/>
<rect x="360.4" y="72.9" width="4.55" height="4.4" rx="0.6" fill="#4a4a4a"/>
<rect x="365.9" y="72.9" width="4.55" height="4.4" rx="0.6" fill="#4a4a4a"/>
<rect x="371.4" y="72.9" width="4.55" height="4.4" rx="0.6" fill="#4a4a4a"/>
<rect x="376.9" y="72.9" width="4.55" height="4.4" rx="0.6" fill="#4a4a4a"/>
<rect x="382.4" y="72.9" width="4.55" height="4.4" rx="0.6" fill="#4a4a4a"/>
<rect x="387.9" y="72.9" width="4.55" height="4.4" rx="0.6" fill="#4a4a4a"/>
<rect x="393.4" y="72.9" width="4.55" height="4.4" rx="0.6" fill="#4a4a4a"/>
<rect x="398.9" y="72.9" width="9" height="4.4" rx="0.6" fill="#4a4a4a"/>
<rect x="329.5" y="78.6" width="6" height="4.4" rx="0.6" fill="#4a4a4a"/>
<rect x="336.4" y="78.6" width="4.55" height="4.4" rx="0.6" fill="#4a4a4a"/>
<rect x="341.9" y="78.6" width="4.55" height="4.4" rx="0.6" fill="#4a4a4a"/>
<rect x="347.4" y="78.6" width="4.55" height="4.4" rx="0.6" fill="#4a4a4a"/>
<rect x="352.9" y="78.6" width="4.55" height="4.4" rx="0.6" fill="#4a4a4a"/>
<rect x="358.4" y="78.6" width="4.55" height="4.4" rx="0.6" fill="#4a4a4a"/>
<rect x="363.9" y="78.6" width="4.55" height="4.4" rx="0.6" fill="#4a4a4a"/>
<rect x="369.4" y="78.6" width="4.55" height="4.4" rx="0.6" fill="#4a4a4a"/>
<rect x="374.9" y="78.6" width="4.55" height="4.4" rx="0.6" fill="#4a4a4a"/>
<rect x="380.4" y="78.6" width="4.55" height="4.4" rx="0.6" fill="#4a4a4a"/>
<rect x="385.9" y="78.6" width="4.55" height="4.4" rx="0.6" fill="#4a4a4a"/>
<rect x="391.4" y="78.6" width="4.55" height="4.4" rx="0.6" fill="#4a4a4a"/>
<rect x="396.9" y="78.6" width="10.5" height="4.4" rx="0.6" fill="#4a4a4a"/>
<rect x="329.5" y="84.3" width="6.5" height="4.4" rx="0.6" fill="#4a4a4a"/>
<rect x="336.9" y="84.3" width="6" height="4.4" rx="0.6" fill="#4a4a4a"/>
<rect x="343.9" y="84.3" width="6" height="4.4" rx="0.6" fill="#4a4a4a"/>
<rect x="350.8" y="84.3" width="30" height="4.4" rx="0.6" fill="#4a4a4a"/>
<rect x="381.8" y="84.3" width="6" height="4.4" rx="0.6" fill="#4a4a4a"/>
<rect x="388.7" y="84.3" width="6" height="4.4" rx="0.6" fill="#4a4a4a"/>
<rect x="395.7" y="84.3" width="6" height="4.4" rx="0.6" fill="#4a4a4a"/>
<rect x="402.6" y="84.3" width="6.5" height="4.4" rx="0.6" fill="#4a4a4a"/>
<rect x="413" y="61.5" width="4.8" height="4.4" rx="0.6" fill="#4a4a4a"/>
<rect x="419" y="61.5" width="4.8" height="4.4" rx="0.6" fill="#4a4a4a"/>
<rect x="425" y="61.5" width="4.8" height="4.4" rx="0.6" fill="#4a4a4a"/>
<rect x="413" y="67.2" width="4.8" height="4.4" rx="0.6" fill="#4a4a4a"/>
<rect x="419" y="67.2" width="4.8" height="4.4" rx="0.6" fill="#4a4a4a"/>
<rect x="425" y="67.2" width="4.8" height="4.4" rx="0.6" fill="#4a4a4a"/>
<rect x="419" y="78.6" width="4.8" height="4.4" rx="0.6" fill="#4a4a4a"/>
<rect x="413" y="84.3" width="4.8" height="4.4" rx="0.6" fill="#4a4a4a"/>
<rect x="419" y="84.3" width="4.8" height="4.4" rx="0.6" fill="#4a4a4a"/>
<rect x="425" y="84.3" width="4.8" height="4.4" rx="0.6" fill="#4a4a4a"/>
<rect x="432.5" y="61.5" width="4.8" height="4.4" rx="0.6" fill="#4a4a4a"/>
<rect x="438.2" y="61.5" width="4.8" height="4.4" rx="0.6" fill="#4a4a4a"/>
<rect x="443.9" y="61.5" width="4.8" height="4.4" rx="0.6" fill="#4a4a4a"/>
<rect x="449.6" y="61.5" width="4.8" height="4.4" rx="0.6" fill="#4a4a4a"/>
<rect x="432.5" y="67.2" width="4.8" height="4.4" rx="0.6" fill="#4a4a4a"/>
<rect x="438.2" y="67.2" width="4.8" height="4.4" rx="0.6" fill="#4a4a4a"/>
<rect x="443.9" y="67.2" width="4.8" height="4.4" rx="0.6" fill="#4a4a4a"/>
<rect x="449.6" y="67.2" width="4.8" height="4.4" rx="0.6" fill="#4a4a4a"/>
<rect x="432.5" y="72.9" width="4.8" height="4.4" rx="0.6" fill="#4a4a4a"/>
<rect x="438.2" y="72.9" width="4.8" height="4.4" rx="0.6" fill="#4a4a4a"/>
<rect x="443.9" y="72.9" width="4.8" height="4.4" rx="0.6" fill="#4a4a4a"/>
<rect x="449.6" y="72.9" width="4.8" height="4.4" rx="0.6" fill="#4a4a4a"/>
<rect x="432.5" y="78.6" width="4.8" height="4.4" rx="0.6" fill="#4a4a4a"/>
<rect x="438.2" y="78.6" width="4.8" height="4.4" rx="0.6" fill="#4a4a4a"/>
<rect x="443.9" y="78.6" width="4.8" height="4.4" rx="0.6" fill="#4a4a4a"/>
<rect x="449.6" y="78.6" width="4.8" height="4.4" rx="0.6" fill="#4a4a4a"/>
<rect x="432.5" y="84.3" width="4.8" height="4.4" rx="0.6" fill="#4a4a4a"/>
<rect x="438.2" y="84.3" width="4.8" height="4.4" rx="0.6" fill="#4a4a4a"/>
<rect x="443.9" y="84.3" width="4.8" height="4.4" rx="0.6" fill="#4a4a4a"/>
<rect x="449.6" y="84.3" width="4.8" height="4.4" rx="0.6" fill="#4a4a4a"/>
</g>
<g id="mouse"><defs><linearGradient id="mg" x1="0" x2="1"><stop offset="0" stop-color="#1e1f22"/><stop offset="0.12" stop-color="#34363c"/><stop offset="0.5" stop-color="#3c3e45"/><stop offset="0.88" stop-color="#34363c"/><stop offset="1" stop-color="#1e1f22"/></linearGradient></defs><path d="M495.5 57 Q495.5 50.5 502 48.5 L507 47 L511.3 48.8 L515.6 47 L520.6 48.5 Q527 50.5 527 57 L527 86 Q527 104 511.3 104 Q495.5 104 495.5 86 Z" fill="url(#mg)"/><path d="M508 48.5 L514.5 48.5 L514.5 62 L508 62 Z" fill="#26272b"/><rect x="509.8" y="51" width="3" height="8" rx="1" fill="#16171a"/><path d="M511.3 62 V78" stroke="#26272b" stroke-width="1"/></g>
<g id="remote"><path d="M600 80 V63 Q600 56 606.5 56 Q613 56 613 63 V83 Q613 90 620.5 90 Q628 90 628 83 V52" fill="none" stroke="#1a1a1a" stroke-width="1.9"/><rect x="624" y="40.5" width="8.5" height="11" rx="1" fill="#1a1a1a"/><rect x="625.3" y="35.5" width="5.8" height="5.2" fill="#d0d0d0" stroke="#999" stroke-width="0.5"/><path d="M597.6 77 L602.4 77 L603.6 91 L596.4 91 Z" fill="#1a1a1a"/><path d="M596.8 80h6.4M596.6 83h6.8" stroke="#333" stroke-width="0.6"/><circle cx="600" cy="100" r="10.3" fill="#111"/><circle cx="600" cy="100" r="8.3" fill="#262626" stroke="#3a3a3a" stroke-width="0.8"/><circle cx="600" cy="100" r="3" fill="#1a1a1a"/><circle cx="604.5" cy="96" r="1" fill="#3a7a3a"/></g>
<g id="tv">
<defs><radialGradient id="tvorange" cx="145" cy="521" r="75" gradientUnits="userSpaceOnUse"><stop offset="0" stop-color="#ffc840"/><stop offset="0.18" stop-color="#f7a024"/><stop offset="0.22" stop-color="#f08a2a"/><stop offset="0.27" stop-color="#e0503a"/><stop offset="0.32" stop-color="#f09050"/><stop offset="0.42" stop-color="#f5b880"/><stop offset="0.5" stop-color="#f8d8a8"/><stop offset="0.62" stop-color="#c8e2f0"/><stop offset="0.7" stop-color="#f2f0ec"/><stop offset="1" stop-color="#f8f6f4"/></radialGradient><linearGradient id="teal" x1="80" y1="490" x2="140" y2="540" gradientUnits="userSpaceOnUse"><stop offset="0" stop-color="#2aaac6"/><stop offset="0.6" stop-color="#1a8cb8"/><stop offset="1" stop-color="#1a6aae"/></linearGradient><clipPath id="tvclip"><rect x="80.7" y="486.3" width="131" height="73.5"/></clipPath></defs>
<rect x="79.5" y="485" width="134" height="78" fill="#151515"/>
<g clip-path="url(#tvclip)">
<rect x="80" y="486" width="134" height="75" fill="url(#tvorange)"/>
<circle cx="145" cy="521" r="50" fill="none" stroke="#d6d2ce" stroke-width="0.8" opacity="0.7"/>
<circle cx="145" cy="521" r="56" fill="none" stroke="#d6d2ce" stroke-width="0.8" opacity="0.7"/>
<circle cx="145" cy="521" r="62" fill="none" stroke="#d6d2ce" stroke-width="0.8" opacity="0.7"/>
<circle cx="145" cy="521" r="68" fill="none" stroke="#d6d2ce" stroke-width="0.8" opacity="0.7"/>
<circle cx="145" cy="521" r="74" fill="none" stroke="#d6d2ce" stroke-width="0.8" opacity="0.7"/>
<path d="M130 562 Q132 546 148 544 Q166 544 180 562 Z" fill="#3c78c4" opacity="0.9"/>
<path d="M136 562 Q142 550 152 551 Q162 553 168 562 Z" fill="#5a4aa8" opacity="0.55"/>
<path d="M108 486 L150 486 Q136 494 128 508 Q120 494 108 486 Z" fill="#efeaf4"/>
<path d="M80 516 Q100 518 114 530 Q126 542 129 562 L80 562 Z" fill="#f0a2a0"/>
<path d="M80 536 Q96 540 106 552 Q110 557 111 562 L80 562 Z" fill="#f4c4c2"/>
<path d="M80 550 Q90 553 94 562 L80 562 Z" fill="#f6eceb"/>
<path d="M80 486 L112 486 Q128 500 134 522 Q138 540 137 562 L129 562 Q126 542 114 530 Q100 518 80 516 Z" fill="url(#teal)"/>
<path d="M80 492 Q102 492 116 506 Q104 502 80 503 Z" fill="#70c6da" opacity="0.7"/>
<path d="M106 486 L114 486 Q130 500 136 522 Q141 540 140 562 L134 562 Q134 540 130 522 Q122 500 106 486 Z" fill="#2252a8"/>
<path d="M116 486 L121 486 Q134 500 139 520 Q143 540 143 562 L140 562 Q141 540 136 522 Q130 500 116 486 Z" fill="#8a58b0" opacity="0.85"/>
<path d="M126 508 Q134 498 146 496 Q136 503 132 514 Z" fill="#30a4cc" opacity="0.8"/>
<ellipse cx="145" cy="520.5" rx="16.5" ry="19" fill="#f39a22"/>
<ellipse cx="151" cy="520" rx="8" ry="13" fill="#ffc840" opacity="0.8"/>
</g>
<rect x="79.5" y="559.8" width="134" height="3.4" fill="#151515"/>
<path d="M92 563 L99 563 L91 573 L84.5 573 Z" fill="#161616"/>
<path d="M194 563 L201 563 L208.5 573 L202 573 Z" fill="#161616"/>
</g>
<g id="cables">
<rect x="289.4" y="484" width="19" height="17.5" fill="#dcdcdc" stroke="#aaa" stroke-width="0.6"/>
<rect x="292.5" y="490" width="3.5" height="3" fill="#444"/><rect x="301.5" y="490" width="3.5" height="3" fill="#444"/>
<rect x="288.4" y="501" width="21.2" height="24.5" rx="1.2" fill="#111"/>
<rect x="294.5" y="525" width="9" height="6" fill="#151515"/>
<rect x="297" y="530" width="4.2" height="44.5" rx="2" fill="#111"/>
<rect x="322.4" y="496.6" width="11.2" height="8.6" fill="#d0d0d0" stroke="#999" stroke-width="0.5"/>
<rect x="319.6" y="505" width="16.4" height="20" rx="1.2" fill="#111"/>
<rect x="324" y="525" width="7.5" height="5.5" fill="#151515"/>
<rect x="326" y="530" width="3.6" height="44.5" rx="1.8" fill="#111"/>
</g>
<g id="pc">
<path d="M348.3 501.3 L366.7 487.3 L366.7 572.5 L348.3 572 Z" fill="#1c1c1e"/>
<path d="M366.7 487.3 Q367 486 369 486 L394 486 Q396 486 396 488 L396 573.3 L366.7 573.3 Z" fill="#28282a"/>
<path d="M366.7 487.3 Q367 486 369 486 L394 486 Q396 486 396 488 L396 509.3 L381.3 516.7 L366.7 509.3 Z" fill="#080808"/>
<path d="M366.7 509.3 L381.3 516.7 L396 509.3" fill="none" stroke="#d0503c" stroke-width="1.6"/>
<rect x="362.3" y="514.7" width="4" height="45" fill="#a8302a"/>
<path d="M381.3 516.7 V573" stroke="#333" stroke-width="0.6"/>
<path d="M372 573.3 L376 564.5 L386.5 564.5 L390.5 573.3" fill="#0c0c0c" stroke="#9a6a5a" stroke-width="0.8"/>
<rect x="368" y="489" width="1" height="20" fill="#3a3a3a"/><rect x="394" y="489" width="1" height="20" fill="#3a3a3a"/>
</g>
<g id="laptop">
<defs><linearGradient id="sky" x1="0" x2="0" y1="489.5" y2="530" gradientUnits="userSpaceOnUse"><stop offset="0" stop-color="#2a58a6"/><stop offset="0.5" stop-color="#5a8ccc"/><stop offset="0.75" stop-color="#a8b8c0"/><stop offset="0.88" stop-color="#f0b050"/><stop offset="1" stop-color="#e87a20"/></linearGradient><linearGradient id="refl" x1="0" x2="0" y1="489" y2="544" gradientUnits="userSpaceOnUse"><stop offset="0" stop-color="#fff" stop-opacity="0.15"/><stop offset="1" stop-color="#fff" stop-opacity="0.3"/></linearGradient><linearGradient id="deck" x1="0" x2="0" y1="549" y2="569" gradientUnits="userSpaceOnUse"><stop offset="0" stop-color="#b8b8bc"/><stop offset="0.5" stop-color="#d6d6da"/><stop offset="1" stop-color="#c4c4c8"/></linearGradient></defs>
<rect x="468.7" y="488" width="96.1" height="62" rx="2" fill="#0e0e0e"/>
<rect x="470" y="489.5" width="93.5" height="40.5" fill="url(#sky)"/>
<path d="M470 530 Q480 527 490 528.5 L491 527 H503 L504 528.5 Q508 527 519 527 H530 L531 527 H541 L542 528 Q554 526 563.5 528.5 V544 H470 Z" fill="#0a0a0a"/>
<circle cx="496.8" cy="517.8" r="1.3" fill="#111"/>
<path d="M493.3 515.5 L495.8 519.5 H497.8 L500.3 515.5 M496.8 519 V527.5" stroke="#111" stroke-width="1.5" fill="none"/>
<circle cx="513.6" cy="517.8" r="1.3" fill="#111"/>
<path d="M510.1 515.5 L512.6 519.5 H514.6 L517.1 515.5 M513.6 519 V527.5" stroke="#111" stroke-width="1.5" fill="none"/>
<circle cx="535.1" cy="517.8" r="1.3" fill="#111"/>
<path d="M531.6 515.5 L534.1 519.5 H536.1 L538.6 515.5 M535.1 519 V527.5" stroke="#111" stroke-width="1.5" fill="none"/>
<path d="M470 489.5 L523 489.5 L512 544 L470 544 Z" fill="url(#refl)"/>
<path d="M457.5 567 L468.7 549.7 L564.8 549.7 L577 567 Q577 569 575 569 L459.5 569 Q457.5 569 457.5 567 Z" fill="url(#deck)"/>
<path d="M472 551.3 L562 551.3 L564 560 L470 560 Z" fill="#1e1e22"/>
<rect x="473.0" y="552.3" width="3.1" height="1.2" fill="#5a5a60"/>
<rect x="477.0" y="552.3" width="3.1" height="1.2" fill="#5a5a60"/>
<rect x="481.0" y="552.3" width="3.1" height="1.2" fill="#5a5a60"/>
<rect x="485.0" y="552.3" width="3.1" height="1.2" fill="#5a5a60"/>
<rect x="489.0" y="552.3" width="3.1" height="1.2" fill="#5a5a60"/>
<rect x="493.0" y="552.3" width="3.1" height="1.2" fill="#5a5a60"/>
<rect x="497.0" y="552.3" width="3.1" height="1.2" fill="#5a5a60"/>
<rect x="501.0" y="552.3" width="3.1" height="1.2" fill="#5a5a60"/>
<rect x="505.0" y="552.3" width="3.1" height="1.2" fill="#5a5a60"/>
<rect x="509.0" y="552.3" width="3.1" height="1.2" fill="#5a5a60"/>
<rect x="513.0" y="552.3" width="3.1" height="1.2" fill="#5a5a60"/>
<rect x="517.0" y="552.3" width="3.1" height="1.2" fill="#5a5a60"/>
<rect x="521.0" y="552.3" width="3.1" height="1.2" fill="#5a5a60"/>
<rect x="525.0" y="552.3" width="3.1" height="1.2" fill="#5a5a60"/>
<rect x="529.0" y="552.3" width="3.1" height="1.2" fill="#5a5a60"/>
<rect x="533.0" y="552.3" width="3.1" height="1.2" fill="#5a5a60"/>
<rect x="537.0" y="552.3" width="3.1" height="1.2" fill="#5a5a60"/>
<rect x="541.0" y="552.3" width="3.1" height="1.2" fill="#5a5a60"/>
<rect x="545.0" y="552.3" width="3.1" height="1.2" fill="#5a5a60"/>
<rect x="549.0" y="552.3" width="3.1" height="1.2" fill="#5a5a60"/>
<rect x="553.0" y="552.3" width="3.1" height="1.2" fill="#5a5a60"/>
<rect x="557.0" y="552.3" width="3.1" height="1.2" fill="#5a5a60"/>
<rect x="472.5" y="554.3" width="3.1" height="1.2" fill="#5a5a60"/>
<rect x="476.5" y="554.3" width="3.1" height="1.2" fill="#5a5a60"/>
<rect x="480.6" y="554.3" width="3.1" height="1.2" fill="#5a5a60"/>
<rect x="484.6" y="554.3" width="3.1" height="1.2" fill="#5a5a60"/>
<rect x="488.7" y="554.3" width="3.1" height="1.2" fill="#5a5a60"/>
<rect x="492.7" y="554.3" width="3.1" height="1.2" fill="#5a5a60"/>
<rect x="496.8" y="554.3" width="3.1" height="1.2" fill="#5a5a60"/>
<rect x="500.8" y="554.3" width="3.1" height="1.2" fill="#5a5a60"/>
<rect x="504.9" y="554.3" width="3.1" height="1.2" fill="#5a5a60"/>
<rect x="508.9" y="554.3" width="3.1" height="1.2" fill="#5a5a60"/>
<rect x="513.0" y="554.3" width="3.1" height="1.2" fill="#5a5a60"/>
<rect x="517.0" y="554.3" width="3.1" height="1.2" fill="#5a5a60"/>
<rect x="521.0" y="554.3" width="3.1" height="1.2" fill="#5a5a60"/>
<rect x="525.1" y="554.3" width="3.1" height="1.2" fill="#5a5a60"/>
<rect x="529.1" y="554.3" width="3.1" height="1.2" fill="#5a5a60"/>
<rect x="533.2" y="554.3" width="3.1" height="1.2" fill="#5a5a60"/>
<rect x="537.2" y="554.3" width="3.1" height="1.2" fill="#5a5a60"/>
<rect x="541.3" y="554.3" width="3.1" height="1.2" fill="#5a5a60"/>
<rect x="545.3" y="554.3" width="3.1" height="1.2" fill="#5a5a60"/>
<rect x="549.4" y="554.3" width="3.1" height="1.2" fill="#5a5a60"/>
<rect x="553.4" y="554.3" width="3.1" height="1.2" fill="#5a5a60"/>
<rect x="557.5" y="554.3" width="3.1" height="1.2" fill="#5a5a60"/>
<rect x="472.0" y="556.3" width="3.2" height="1.2" fill="#5a5a60"/>
<rect x="476.1" y="556.3" width="3.2" height="1.2" fill="#5a5a60"/>
<rect x="480.2" y="556.3" width="3.2" height="1.2" fill="#5a5a60"/>
<rect x="484.3" y="556.3" width="3.2" height="1.2" fill="#5a5a60"/>
<rect x="488.4" y="556.3" width="3.2" height="1.2" fill="#5a5a60"/>
<rect x="492.5" y="556.3" width="3.2" height="1.2" fill="#5a5a60"/>
<rect x="496.5" y="556.3" width="3.2" height="1.2" fill="#5a5a60"/>
<rect x="500.6" y="556.3" width="3.2" height="1.2" fill="#5a5a60"/>
<rect x="504.7" y="556.3" width="3.2" height="1.2" fill="#5a5a60"/>
<rect x="508.8" y="556.3" width="3.2" height="1.2" fill="#5a5a60"/>
<rect x="512.9" y="556.3" width="3.2" height="1.2" fill="#5a5a60"/>
<rect x="517.0" y="556.3" width="3.2" height="1.2" fill="#5a5a60"/>
<rect x="521.1" y="556.3" width="3.2" height="1.2" fill="#5a5a60"/>
<rect x="525.2" y="556.3" width="3.2" height="1.2" fill="#5a5a60"/>
<rect x="529.3" y="556.3" width="3.2" height="1.2" fill="#5a5a60"/>
<rect x="533.4" y="556.3" width="3.2" height="1.2" fill="#5a5a60"/>
<rect x="537.5" y="556.3" width="3.2" height="1.2" fill="#5a5a60"/>
<rect x="541.5" y="556.3" width="3.2" height="1.2" fill="#5a5a60"/>
<rect x="545.6" y="556.3" width="3.2" height="1.2" fill="#5a5a60"/>
<rect x="549.7" y="556.3" width="3.2" height="1.2" fill="#5a5a60"/>
<rect x="553.8" y="556.3" width="3.2" height="1.2" fill="#5a5a60"/>
<rect x="557.9" y="556.3" width="3.2" height="1.2" fill="#5a5a60"/>
<rect x="471.5" y="558.3" width="3.2" height="1.2" fill="#5a5a60"/>
<rect x="475.6" y="558.3" width="3.2" height="1.2" fill="#5a5a60"/>
<rect x="479.8" y="558.3" width="3.2" height="1.2" fill="#5a5a60"/>
<rect x="483.9" y="558.3" width="3.2" height="1.2" fill="#5a5a60"/>
<rect x="488.0" y="558.3" width="3.2" height="1.2" fill="#5a5a60"/>
<rect x="492.2" y="558.3" width="3.2" height="1.2" fill="#5a5a60"/>
<rect x="496.3" y="558.3" width="3.2" height="1.2" fill="#5a5a60"/>
<rect x="500.5" y="558.3" width="3.2" height="1.2" fill="#5a5a60"/>
<rect x="504.6" y="558.3" width="3.2" height="1.2" fill="#5a5a60"/>
<rect x="508.7" y="558.3" width="3.2" height="1.2" fill="#5a5a60"/>
<rect x="512.9" y="558.3" width="3.2" height="1.2" fill="#5a5a60"/>
<rect x="517.0" y="558.3" width="3.2" height="1.2" fill="#5a5a60"/>
<rect x="521.1" y="558.3" width="3.2" height="1.2" fill="#5a5a60"/>
<rect x="525.3" y="558.3" width="3.2" height="1.2" fill="#5a5a60"/>
<rect x="529.4" y="558.3" width="3.2" height="1.2" fill="#5a5a60"/>
<rect x="533.5" y="558.3" width="3.2" height="1.2" fill="#5a5a60"/>
<rect x="537.7" y="558.3" width="3.2" height="1.2" fill="#5a5a60"/>
<rect x="541.8" y="558.3" width="3.2" height="1.2" fill="#5a5a60"/>
<rect x="546.0" y="558.3" width="3.2" height="1.2" fill="#5a5a60"/>
<rect x="550.1" y="558.3" width="3.2" height="1.2" fill="#5a5a60"/>
<rect x="554.2" y="558.3" width="3.2" height="1.2" fill="#5a5a60"/>
<rect x="558.4" y="558.3" width="3.2" height="1.2" fill="#5a5a60"/>
<rect x="501" y="561.5" width="33" height="5" fill="#b4b4b8"/>
<rect x="457.5" y="567.5" width="119.5" height="1.5" fill="#8a8a90"/>
</g>
<g id="charger">
<g fill="none" stroke="#151515" stroke-linecap="round" stroke-linejoin="round">
<path d="M592 508 Q588 517 600 516.5 Q616 515 630 504 Q641 494 637 487 Q631 482 620 485 Q610 489 604 496" stroke-width="5"/>
<path d="M596 512 Q606 512 622 503 Q636 494 634 489" stroke-width="2" stroke="#2a2a2a"/>
<path d="M590 511 Q594 502 604 500 Q612 499 622 506" stroke-width="3.5"/>
</g>
<path d="M586.5 501 L592 496 L600 494 L611 493 L612.5 499 L600 505 L590 505.5 Z" fill="#111"/>
<circle cx="589" cy="501" r="2.5" fill="#151515"/>
<path d="M612 506.5 L627 502.5 L631 509.5 L616 514 Z" fill="#171717"/>
<path d="M606 508 L612 506.5 L613 510 L607 511.5 Z" fill="#b8b8b8" opacity="0.7"/>
<path d="M599.4 531 L651.4 510 L665.3 522.5 L665.3 535.5 L611.5 557 L600 547 Z" fill="#161616"/>
<path d="M599.4 531 L651.4 510 L665.3 522.5 L611 544 Z" fill="#232323"/>
<g stroke="#6a6a6a" stroke-width="0.6"><path d="M606 533 L628 524 M607 536 L630 527 M609 539 L626 532 M634 521 L650 514.5 M635 524 L652 517.5 M637 527 L654 520.5"/></g>
<path d="M602.5 540 L606 539 L606.5 547 L603 548 Z" fill="#3a3a3a"/>
<g fill="none" stroke="#151515" stroke-linecap="round">
<path d="M665 525 Q672 527 676 532" stroke-width="3"/>
<ellipse cx="663" cy="550" rx="25" ry="9" transform="rotate(-40 663 550)" stroke-width="4.5"/>
<path d="M650 563 Q640 568 628 568.5" stroke-width="3.2"/>
</g>
<path d="M624 565 L630 563.5 L631.5 569 L625.5 571 Z" fill="#151515"/>
<rect x="618.5" y="567" width="7" height="4" fill="#d8d8d8" transform="rotate(-15 622 569)"/>
</g>
</svg>
<div class="note"></div>
</body></html>
